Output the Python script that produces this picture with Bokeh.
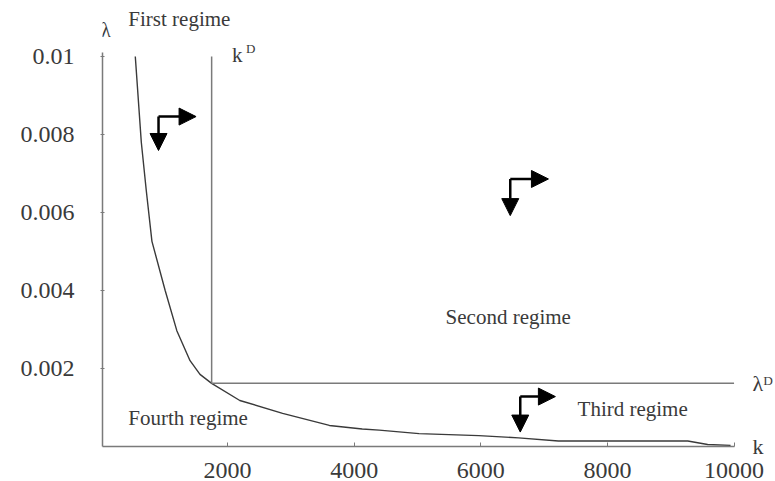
from bokeh.plotting import figure
from bokeh.models import Label, Arrow, NormalHead, FixedTicker, Range1d, LinearAxis
from bokeh.embed import file_html
from bokeh.resources import INLINE

# ---- data ----
k_curve = [542, 637, 715, 805, 1014, 1198, 1407, 1564, 1748, 2193, 2869, 3608,
           4127, 4395, 5024, 5967, 6596, 7225, 9269, 9583, 9945]
lam_curve = [0.0100, 0.0078, 0.00657, 0.00526, 0.00400, 0.00297, 0.00220, 0.00185,
             0.00162, 0.00118, 0.00085, 0.00054, 0.00045, 0.00042, 0.00033, 0.00028,
             0.00022, 0.00014, 0.00014, 0.00005, 0.00003]
k_D = 1748
lam_D = 0.00162
k_max = 10000
lam_max = 0.01

x_ticks = [2000, 4000, 6000, 8000, 10000]
x_tick_labels = ["2000", "4000", "6000", "8000", "10000"]
y_ticks = [0.002, 0.004, 0.006, 0.008, 0.01]
y_tick_labels = ["0.002", "0.004", "0.006", "0.008", "0.01"]
# names written at the right end of the k axis and of the lambda^D line
right_ticks = [0.0, lam_D]
right_tick_labels = ["k", "λᴰ"]

# regime arrows: corner, tip of right arrow (k), tip of down arrow (lambda)
arrow_corner_k = [909, 6465, 6623]
arrow_corner_lam = [0.00846, 0.00686, 0.00128]
arrow_right_k = [1502, 7068, 7178]
arrow_down_lam = [0.00759, 0.00592, 0.00037]

regime_names = ["First regime", "Second regime", "Third regime", "Fourth regime"]
regime_k = [432, 5443, 7528, 432]
regime_lam = [0.01097, 0.003315, 0.000974, 0.000718]

LINE = "#7a7a7a"
TXT = "#3a3a3a"
FONT = "Liberation Serif"

p = figure(width=775, height=481,
           x_range=Range1d(24, 10244), y_range=Range1d(0, 0.011436),
           output_backend="svg", toolbar_location=None,
           min_border_left=102, min_border_right=23, min_border_top=0, min_border_bottom=35)
p.grid.visible = False
p.outline_line_color = None
p.background_fill_color = "white"
p.border_fill_color = "white"

for ax in (p.xaxis[0], p.yaxis[0]):
    ax.axis_line_color = LINE
    ax.axis_line_width = 1.5
    ax.major_tick_line_color = LINE
    ax.minor_tick_line_color = None
    ax.major_label_text_font = FONT
    ax.major_label_text_color = TXT
    ax.major_label_text_font_size = "24px"

p.xaxis.ticker = FixedTicker(ticks=x_ticks)
p.xaxis.major_label_overrides = dict(zip(x_ticks, x_tick_labels))
p.xaxis.bounds = (24, k_max)
p.xaxis.major_tick_in = 4
p.xaxis.major_tick_out = 0
p.xaxis.major_label_standoff = 16
p.xaxis.major_label_text_line_height = 0.5

p.yaxis.ticker = FixedTicker(ticks=y_ticks)
p.yaxis.major_label_overrides = dict(zip(y_ticks, y_tick_labels))
p.yaxis.bounds = (0, 0.0101)
p.yaxis.major_tick_in = 2
p.yaxis.major_tick_out = 2
p.yaxis.major_label_standoff = 26

rax = LinearAxis(ticker=FixedTicker(ticks=right_ticks),
                 major_label_overrides=dict(zip(right_ticks, right_tick_labels)),
                 axis_line_color=None, major_tick_line_color=None,
                 minor_tick_line_color=None, major_tick_in=0, major_tick_out=0,
                 major_label_standoff=3, major_label_text_font=FONT,
                 major_label_text_font_size="22px", major_label_text_color=TXT)
p.add_layout(rax, "right")

# curve and threshold lines
p.line(k_curve, lam_curve, line_color="#3a3a3a", line_width=1.4)
p.line([k_D, k_D], [lam_D, lam_max], line_color=LINE, line_width=1.5)
p.line([k_D, k_max], [lam_D, lam_D], line_color=LINE, line_width=1.5)

# arrows
for ck, cl, rk, dl in zip(arrow_corner_k, arrow_corner_lam, arrow_right_k, arrow_down_lam):
    p.add_layout(Arrow(end=NormalHead(size=17, fill_color="black", line_color="black"),
                       x_start=ck, y_start=cl, x_end=rk, y_end=cl,
                       line_color="black", line_width=2.5))
    p.add_layout(Arrow(end=NormalHead(size=17, fill_color="black", line_color="black"),
                       x_start=ck, y_start=cl, x_end=ck, y_end=dl,
                       line_color="black", line_width=2.5))

# regime labels
for name, rk, rl in zip(regime_names, regime_k, regime_lam):
    p.add_layout(Label(x=rk, y=rl, text=name, text_font=FONT, text_font_size="21px",
                       text_color=TXT, text_align="left", text_baseline="middle"))

# axis / threshold symbols
def lab(x, y, t, size):
    p.add_layout(Label(x=x, y=y, text=t, text_font=FONT, text_font_size=size,
                       text_color=TXT, text_align="left", text_baseline="middle"))

lab(0, 0.01069, "λ", "20px")
lab(2068, 0.01004, "k", "21px")
lab(2290, 0.0102, "D", "13px")

open("out.html", "w").write(file_html(p, INLINE))
